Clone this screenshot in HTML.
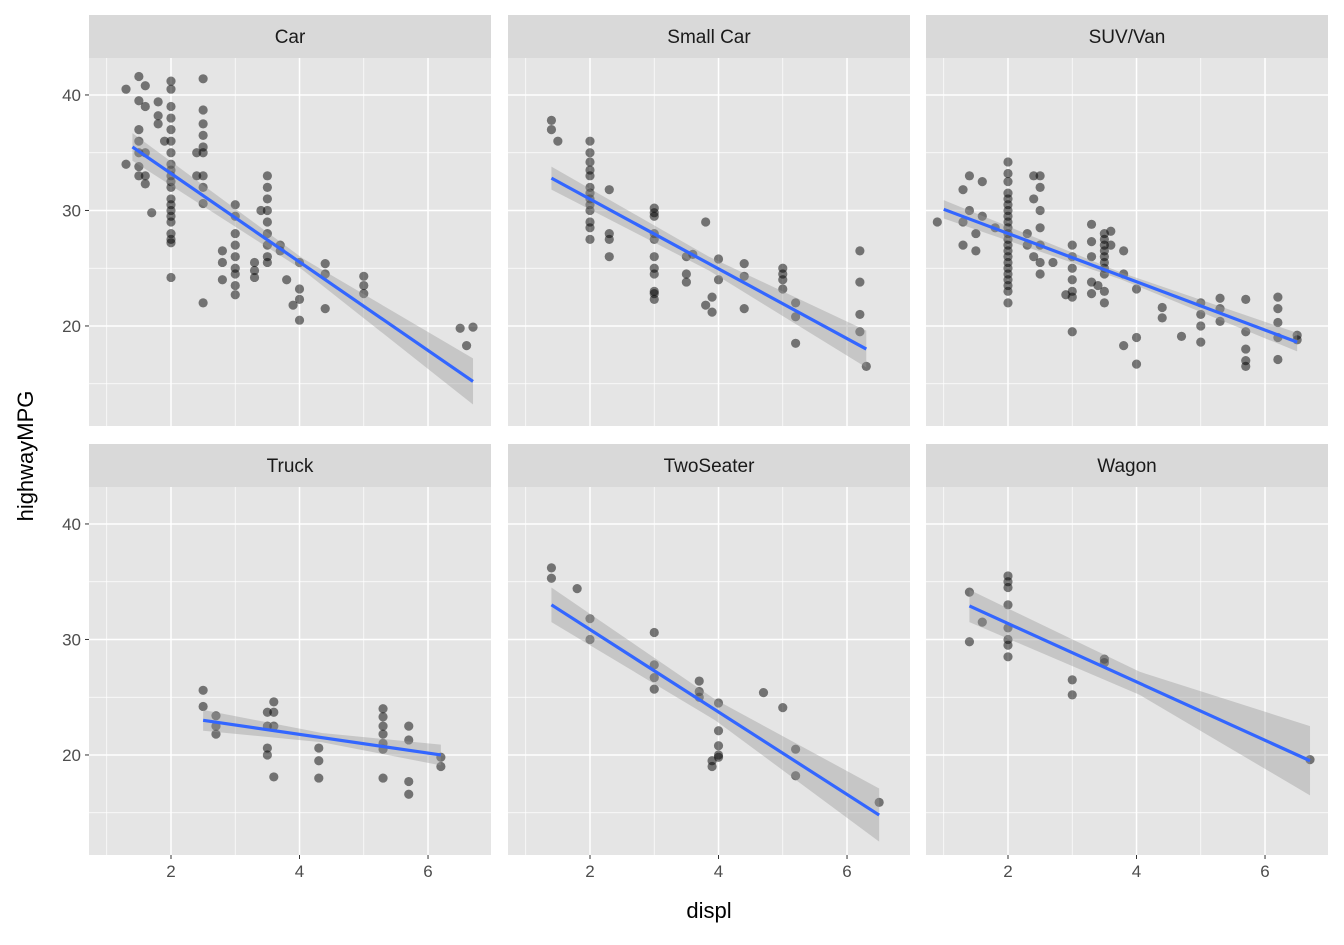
<!DOCTYPE html>
<html><head><meta charset="utf-8">
<style>
html,body{margin:0;padding:0;background:#fff;}
svg text{font-family:"Liberation Sans",Arial,sans-serif;}
</style></head>
<body>
<svg id="chart" width="1344" height="940" xmlns="http://www.w3.org/2000/svg">
<text x="709" y="918" font-size="22" fill="#000" text-anchor="middle">displ</text>
<text transform="translate(33,456) rotate(-90)" font-size="22" fill="#000" text-anchor="middle">highwayMPG</text>
</svg>
<script>
const panelNames = ["Car","Small Car","SUV/Van","Truck","TwoSeater","Wagon"];
const xTicks = [2,4,6];
const yTicks = [20,30,40];
const carPts = [[1.3,34],[1.3,40.5],[1.5,41.6],[1.5,39.5],[1.5,37],[1.5,36],[1.5,35],[1.5,33.8],[1.5,33],[1.6,40.8],[1.6,39],[1.6,35],[1.6,33],[1.6,32.3],[1.7,29.8],[1.8,39.4],[1.8,38.2],[1.8,37.5],[1.9,36],[2,41.2],[2,40.5],[2,39],[2,38],[2,37],[2,36],[2,35],[2,34],[2,33.5],[2,33],[2,32.5],[2,32],[2,31],[2,30.5],[2,30],[2,29.5],[2,29],[2,28],[2,27.5],[2,27.2],[2,24.2],[2.4,35],[2.4,33],[2.5,41.4],[2.5,38.7],[2.5,37.5],[2.5,36.5],[2.5,35.5],[2.5,35],[2.5,33],[2.5,32],[2.5,30.6],[2.5,22],[2.8,26.5],[2.8,25.5],[2.8,24],[3,30.5],[3,29.5],[3,28],[3,27],[3,26],[3,25],[3,24.5],[3,23.5],[3,22.7],[3.3,25.5],[3.3,24.8],[3.3,24.2],[3.5,33],[3.5,32],[3.5,31],[3.5,30],[3.5,29],[3.5,28],[3.5,27],[3.5,26],[3.5,25.5],[3.4,30],[3.7,27],[3.7,26.5],[3.8,24],[3.9,21.8],[4,25.5],[4,23.2],[4,22.3],[4,20.5],[4.4,25.4],[4.4,24.5],[4.4,21.5],[5,24.3],[5,23.5],[5,22.8],[6.5,19.8],[6.6,18.3],[6.7,19.9]];
const smallCarPts = [[1.4,37.8],[1.4,37],[1.5,36],[2,36],[2,35],[2,34.2],[2,33.5],[2,33],[2,32],[2,31.5],[2,31],[2,30.5],[2,30],[2,29],[2,28.5],[2,27.5],[2.3,31.8],[2.3,28],[2.3,27.5],[2.3,26],[3,30.2],[3,29.8],[3,29.5],[3,28],[3,27.5],[3,26],[3,25],[3,24.5],[3,23],[3,22.8],[3,22.3],[3.5,26],[3.5,24.5],[3.5,23.8],[3.6,26.2],[3.8,29],[3.8,21.8],[3.9,22.5],[3.9,21.2],[4,25.8],[4,24],[4.4,25.4],[4.4,24.3],[4.4,21.5],[5,25],[5,24.5],[5,24],[5,23.2],[5.2,22],[5.2,20.8],[5.2,18.5],[6.2,26.5],[6.2,23.8],[6.2,21],[6.2,19.5],[6.3,16.5]];
const suvPts = [[0.9,29],[1.3,31.8],[1.3,29],[1.3,27],[1.4,33],[1.4,30],[1.5,28],[1.5,26.5],[1.6,32.5],[1.6,29.5],[1.8,28.5],[2,34.2],[2,33.2],[2,32.5],[2,31.5],[2,31],[2,30.5],[2,30],[2,29.5],[2,29],[2,28.5],[2,28],[2,27.5],[2,27],[2,26.5],[2,26],[2,25.5],[2,25],[2,24.5],[2,24],[2,23.5],[2,23],[2,22],[2.3,28],[2.3,27],[2.4,33],[2.4,31],[2.4,26],[2.5,33],[2.5,32],[2.5,30],[2.5,28.5],[2.5,27],[2.5,25.5],[2.5,24.5],[2.7,25.5],[3,27],[3,26],[3,25],[3,24],[3,23],[3,22.5],[3,19.5],[2.9,22.7],[3.3,28.8],[3.3,27.3],[3.3,26],[3.3,23.8],[3.3,22.8],[3.4,23.5],[3.5,28],[3.5,27.5],[3.5,27],[3.5,26.5],[3.5,26],[3.5,25.5],[3.5,25],[3.5,24.5],[3.5,23],[3.5,22],[3.6,28.2],[3.6,27],[3.8,26.5],[3.8,18.3],[3.8,24.5],[4,23.2],[4,19],[4,16.7],[4.4,21.6],[4.4,20.7],[4.7,19.1],[5,22],[5,21],[5,20],[5,18.6],[5.3,22.4],[5.3,21.5],[5.3,20.4],[5.7,22.3],[5.7,19.5],[5.7,18],[5.7,17],[5.7,16.5],[6.2,22.5],[6.2,21.5],[6.2,20.3],[6.2,19],[6.2,17.1],[6.5,19.2],[6.5,18.8]];
const truckPts = [[2.5,25.6],[2.5,24.2],[2.7,23.4],[2.7,22.5],[2.7,21.8],[3.5,23.7],[3.5,22.5],[3.5,20.6],[3.5,20],[3.6,24.6],[3.6,23.7],[3.6,22.5],[3.6,18.1],[4.3,20.6],[4.3,19.5],[4.3,18],[5.3,24],[5.3,23.3],[5.3,22.5],[5.3,21.8],[5.3,21],[5.3,20.5],[5.3,18],[5.7,22.5],[5.7,21.3],[5.7,17.7],[5.7,16.6],[6.2,19.8],[6.2,19]];
const twoSeaterPts = [[1.4,36.2],[1.4,35.3],[1.8,34.4],[2,31.8],[2,30],[3,30.6],[3,27.8],[3,26.7],[3,25.7],[3.7,26.4],[3.7,25.5],[3.7,25],[4,24.5],[3.9,19.5],[3.9,19],[4,22.1],[4,20.8],[4,20],[4,19.8],[4.7,25.4],[5,24.1],[5.2,20.5],[5.2,18.2],[6.5,15.9]];
const wagonPts = [[1.4,34.1],[1.4,29.8],[1.6,31.5],[2,35.5],[2,35],[2,34.5],[2,33],[2,31],[2,30],[2,29.5],[2,28.5],[3,26.5],[3,25.2],[3.5,28.3],[3.5,28],[6.7,19.6]];
const panelPoints = [carPts, smallCarPts, suvPts, truckPts, twoSeaterPts, wagonPts];
const fitLines = [[1.4,35.5,6.7,15.2],[1.4,32.8,6.3,18],[1.0,30.1,6.5,18.6],[2.5,23,6.2,20],[1.4,33,6.5,14.8],[1.4,32.9,6.7,19.5]];
const bandWidths = [[1.2,2.0,0.5],[1.0,1.6,0.6],[0.8,0.8,0.3],[0.9,0.9,0.4],[1.5,2.3,0.9],[1.4,3.0,1.0]];

const NS = "http://www.w3.org/2000/svg";
const svg = document.getElementById('chart');
const XMIN = 0.724, XMAX = 6.98, YMIN = 11.34, YMAX = 43.2;
const PW = 402, PH = 368;
const colX = [89, 508, 926];
const rowY = [58, 487];
function mk(tag, attrs, parent){ const e=document.createElementNS(NS,tag); for(const k in attrs) e.setAttribute(k,attrs[k]); (parent||svg).appendChild(e); return e; }
panelNames.forEach((name,i)=>{
  const px = colX[i%3], py = rowY[Math.floor(i/3)];
  const sx = v => px + (v-XMIN)/(XMAX-XMIN)*PW;
  const sy = v => py + (YMAX-v)/(YMAX-YMIN)*PH;
  const g = mk('g',{});
  
  
  const strip = mk('rect',{x:px,y:py-43,width:PW,height:43,fill:'#D9D9D9'},g);
  
  
  const st = mk('text',{x:px+PW/2,y:py-15,'font-size':'19','text-anchor':'middle',fill:'#1A1A1A'},g);
  st.textContent = name;
  
  
  const bg = mk('rect',{x:px,y:py,width:PW,height:PH,fill:'#E5E5E5'},g);
  
  
  [1,3,5,7].forEach(v=>{ if(sx(v)<px+PW) mk('line',{x1:sx(v),x2:sx(v),y1:py,y2:py+PH,stroke:'#fff','stroke-width':0.7},g); });
  [15,25,35].forEach(v=>{ mk('line',{x1:px,x2:px+PW,y1:sy(v),y2:sy(v),stroke:'#fff','stroke-width':0.7},g); });
  xTicks.forEach(v=>{ mk('line',{x1:sx(v),x2:sx(v),y1:py,y2:py+PH,stroke:'#fff','stroke-width':1.5},g); });
  yTicks.forEach(v=>{ mk('line',{x1:px,x2:px+PW,y1:sy(v),y2:sy(v),stroke:'#fff','stroke-width':1.5},g); });
  panelPoints[i].forEach(p=>{
    const c = mk('circle',{cx:sx(p[0]),cy:sy(p[1]),r:4.6,fill:'#000','fill-opacity':0.5},g);
    
    
  });
  const L = fitLines[i], B = bandWidths[i];
  const xm = (L[0]+L[2])/2, ym=(L[1]+L[3])/2;
  const band = mk('path',{d:`M${sx(L[0])},${sy(L[1]+B[0])} L${sx(xm)},${sy(ym+B[2])} L${sx(L[2])},${sy(L[3]+B[1])} L${sx(L[2])},${sy(L[3]-B[1])} L${sx(xm)},${sy(ym-B[2])} L${sx(L[0])},${sy(L[1]-B[0])} Z`,fill:'#999','fill-opacity':0.4},g);
  
  
  const ln = mk('line',{x1:sx(L[0]),y1:sy(L[1]),x2:sx(L[2]),y2:sy(L[3]),stroke:'#3366FF','stroke-width':3.2},g);
  
  
  if(i%3===0){
    yTicks.forEach(v=>{
      mk('line',{x1:px-4,x2:px,y1:sy(v),y2:sy(v),stroke:'#333','stroke-width':1},g);
      const t = mk('text',{x:px-8,y:sy(v)+6,'font-size':'17','text-anchor':'end',fill:'#4D4D4D'},g);
      t.textContent = v;
      
      
    });
  }
  if(i>=3){
    xTicks.forEach(v=>{
      mk('line',{x1:sx(v),x2:sx(v),y1:py+PH,y2:py+PH+4,stroke:'#333','stroke-width':1},g);
      const t = mk('text',{x:sx(v),y:py+PH+22,'font-size':'17','text-anchor':'middle',fill:'#4D4D4D'},g);
      t.textContent = v;
      
      
    });
  }
});
</script>
</body></html>
